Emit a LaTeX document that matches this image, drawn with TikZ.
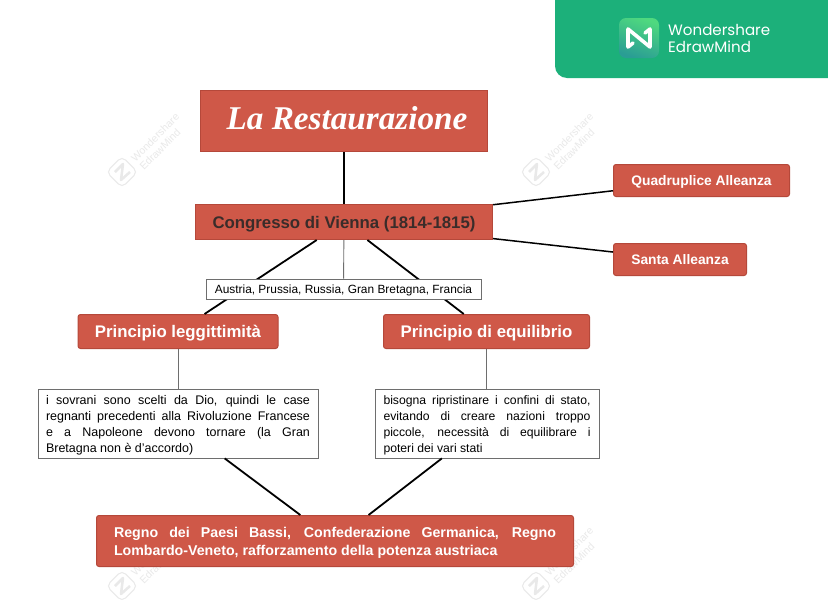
\documentclass[tikz,border=0pt]{standalone}
\usepackage{fontspec}
\setmainfont{Liberation Sans}
\newfontfamily\scriptf{Liberation Serif}
\newfontfamily\brandf{Poppins}
\usetikzlibrary{calc}
\definecolor{redfill}{HTML}{CF5848}
\definecolor{redline}{HTML}{B5483A}
\definecolor{greenpanel}{HTML}{1CB07A}
\definecolor{boxline}{HTML}{6E6E6E}
\definecolor{wm}{HTML}{E9E9E9}
\definecolor{logotop}{HTML}{4FD97F}
\definecolor{logobot}{HTML}{2A9D94}
\definecolor{darktext}{HTML}{3A2C2A}
\newcommand{\fs}[1]{\fontsize{#1}{#1}\selectfont}
\newcommand{\shifted}[2]{\raisebox{#1}[\height][\depth]{#2}}
\newcommand{\wmark}[2]{%
  \begin{scope}[shift={(#1,#2)},rotate=45]
    \draw[wm,line width=1pt,rounded corners=5pt,fill=white] (-11,-11) rectangle (11,11);
  \end{scope}
  \draw[wm,line width=2.5pt,line join=round] ($(#1,#2)+(-7,0)$) -- ($(#1,#2)+(1,-8)$) -- ($(#1,#2)+(-1,8)$) -- ($(#1,#2)+(8,0)$);
  \node[text=wm,anchor=west,align=left,font=\fontsize{10.5}{12}\selectfont,inner sep=0pt,rotate=45] at ($(#1,#2)+(15,-8)$) {Wondershare\\EdrawMind};
}
\tikzset{
  redbox/.style={draw=redline,fill=redfill,line width=1pt,inner sep=0pt,text depth=0pt},
  roundbox/.style={redbox,rounded corners=2.5pt,text=white,font=\bfseries\fs{16.8}},
  smallbox/.style={roundbox,font=\bfseries\fs{13.8}},
  whitebox/.style={draw=boxline,fill=white,line width=.8pt,inner sep=0pt},
  thickline/.style={draw=black,line width=1.8pt},
  medline/.style={draw=black,line width=1.5pt},
  thinline/.style={draw=boxline,line width=.9pt},
}
\begin{document}
\begin{tikzpicture}[x=1pt,y=-1pt]
\useasboundingbox (0,0) rectangle (828,600);
\fill[white] (0,0) rectangle (828,600);
% watermarks
\wmark{122}{172}
\wmark{536}{172}
\wmark{122}{586}
\wmark{536}{586}
% brand panel
\fill[greenpanel,rounded corners=12pt] (555,-20) rectangle (848,78);
\shade[rounded corners=7pt,top color=logotop,bottom color=logobot,shading angle=-20] (619,18) rectangle (659,58);
\draw[white,line width=3.6pt,line join=round,line cap=round] (633,43) -- (628,47) -- (628,29) -- (650,47) -- (650,29) -- (645,33);
\node[anchor=west,align=left,text=white,inner sep=0pt,font=\brandf\fontsize{15.1}{17}\selectfont] (brand) at (668,38.5) {Wondershare\\EdrawMind};
% main nodes
\node[redbox,minimum width=287,minimum height=61,text=white,font=\scriptf\itshape\bfseries\fs{33.2}] (root) at (344,121) {\shifted{3.5pt}{\hspace*{6pt}La Restaurazione}};
\node[redbox,minimum width=297,minimum height=35,text=darktext,font=\bfseries\fs{16.8}] (cong) at (344,222) {Congresso di Vienna (1814-1815)};
\node[smallbox,minimum width=176,minimum height=32] (quad) at (701.5,180.5) {Quadruplice Alleanza};
\node[smallbox,minimum width=133,minimum height=32] (santa) at (680,259.5) {Santa Alleanza};
\node[roundbox,minimum width=200,minimum height=34] (leg) at (178,331.5) {Principio leggittimità};
\node[roundbox,minimum width=206,minimum height=34] (equi) at (486.5,331.5) {Principio di equilibrio};
\node[whitebox,minimum width=280,minimum height=69] (sov) at (178,423.5) {\shifted{-2pt}{\parbox{264pt}{\fs{12.5}\baselineskip=16.1pt i sovrani sono scelti da Dio, quindi le case\linebreak regnanti precedenti alla Rivoluzione Francese\linebreak e a Napoleone devono tornare (la Gran\linebreak Bretagna non è d'accordo)}}};
\node[whitebox,minimum width=224,minimum height=69] (bis) at (487,423.5) {\shifted{-2pt}{\parbox{207pt}{\fs{12.2}\baselineskip=16.1pt bisogna ripristinare i confini di stato,\linebreak evitando di creare nazioni troppo\linebreak piccole, necessità di equilibrare i\linebreak poteri dei vari stati}}};
\node[smallbox,minimum width=477,minimum height=51,font=\bfseries\fs{14.2},text depth=] (regno) at (335,541) {\shifted{-2pt}{\parbox{442pt}{\baselineskip=18.3pt Regno dei Paesi Bassi, Confederazione Germanica, Regno\linebreak Lombardo-Veneto, rafforzamento della potenza austriaca}}};
% connectors
\draw[thickline] (root) -- (cong);
\draw[medline] (cong) -- (quad);
\draw[medline] (cong) -- (santa);
\draw[thickline] (cong) -- (leg);
\draw[thickline] (cong) -- (equi);
\draw[thinline] (leg) -- (sov);
\draw[thinline] (equi.south) -- (equi.south |- bis.north);
\draw[thickline] (sov) -- (regno);
\draw[thickline] (bis) -- (regno);
% box over the connectors
\node[whitebox,minimum width=275,minimum height=20,font=\fs{11.9},text depth=0pt] (aus) at (343.5,289) {Austria, Prussia, Russia, Gran Bretagna, Francia};
\draw[thinline] (cong) -- (aus);
\end{tikzpicture}
\end{document}
